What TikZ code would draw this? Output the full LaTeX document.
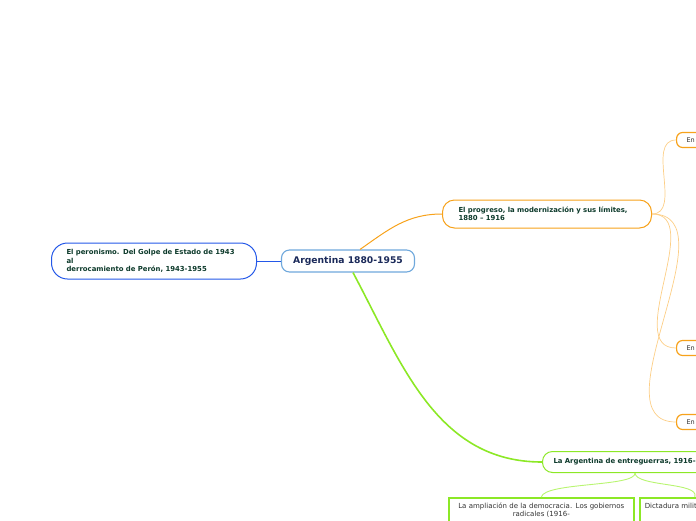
\documentclass[tikz,border=0pt]{standalone}
\usepackage{fontspec}
\setmainfont{DejaVu Sans}
\usetikzlibrary{positioning, calc}

\definecolor{topblue}{HTML}{6FA8DC}
\definecolor{navytext}{HTML}{1B2A5A}
\definecolor{peronblue}{HTML}{2458E8}
\definecolor{darkgreentext}{HTML}{0E3B2C}
\definecolor{orangeline}{HTML}{F7A21B}
\definecolor{paleorange}{HTML}{FCCE86}
\definecolor{limeline}{HTML}{8CE826}
\definecolor{palelime}{HTML}{B8F570}
\definecolor{graytext}{HTML}{333333}

\tikzset{
  topic/.style={draw, fill=white, rounded corners=8pt, line width=1.1pt, font=\fontsize{9.2}{11}\selectfont\bfseries},
  mainsub/.style={draw, fill=white, line width=1pt, font=\fontsize{6.9}{8.5}\selectfont\bfseries, text=darkgreentext, align=left},
  leafbox/.style={draw=orangeline, fill=white, rounded corners=6pt, line width=1.2pt, minimum height=15pt, inner xsep=10pt, anchor=west, text width=60pt, font=\fontsize{6.5}{7}\selectfont, text=graytext},
  greenbox/.style={draw=limeline, fill=white, line width=1.6pt, anchor=north west, inner xsep=5pt, inner ysep=5.5pt, text depth=30pt, font=\fontsize{7}{8}\selectfont, text=graytext},
}

\begin{document}
\begin{tikzpicture}[x=1pt,y=-1pt]
\useasboundingbox (0,0) rectangle (696,520);
\clip (0,0) rectangle (696,520);

% central topic
\node[topic, draw=topblue, text=navytext, minimum width=133pt, minimum height=22pt] (arg) at (348,261) {Argentina 1880-1955};

% main branches
\node[mainsub, draw=peronblue, rounded corners=16pt, anchor=west, text width=175pt, inner xsep=15pt, minimum height=36pt] (peron) at (51,261)
  {El peronismo. Del Golpe de Estado de 1943\\al\\derrocamiento de Perón, 1943-1955};
\node[mainsub, draw=orangeline, rounded corners=12pt, anchor=west, text width=177pt, inner xsep=16pt, minimum height=28pt] (progreso) at (442,214)
  {El progreso, la modernización y sus límites,\\1880 – 1916};
\node[mainsub, draw=limeline, rounded corners=10pt, anchor=west, text width=200pt, inner xsep=11pt, minimum height=21pt] (entreg) at (542,462)
  {La Argentina de entreguerras, 1916-};

% leaves of the orange branch
\node[leafbox] (enA) at (676,140) {En};
\node[leafbox] (enB) at (676,348) {En};
\node[leafbox] (enC) at (676,422) {En};

% boxes under the green branch
\node[greenbox, text width=175pt, align=center] (ampl) at (448,497)
  {La ampliación de la democracia. Los gobiernos\\radicales (1916-};
\node[greenbox, text width=100pt, align=left] (dictad) at (639,497)
  {Dictadura militar};

% connectors
\draw[peronblue, line width=0.8pt] (peron.east) -- (arg.west);
\draw[orangeline, line width=1pt] ([xshift=12pt]arg.north) to[out=35,in=180] (progreso.west);
\draw[limeline, line width=1.6pt] ([xshift=5pt]arg.south) to[out=-62,in=180] (entreg.west);

\foreach \leaf in {enA, enB, enC}
  \draw[paleorange, line width=0.7pt] (progreso.east) to[out=0,in=180] (\leaf.west);

\coordinate (fork) at (635,473);
\draw[palelime, line width=0.9pt] (fork) .. controls (636,487) and (545,482) .. (ampl.north);
\draw[palelime, line width=0.9pt] (fork) .. controls (636,487) and (700,482) .. (dictad.north);
\end{tikzpicture}
\end{document}
